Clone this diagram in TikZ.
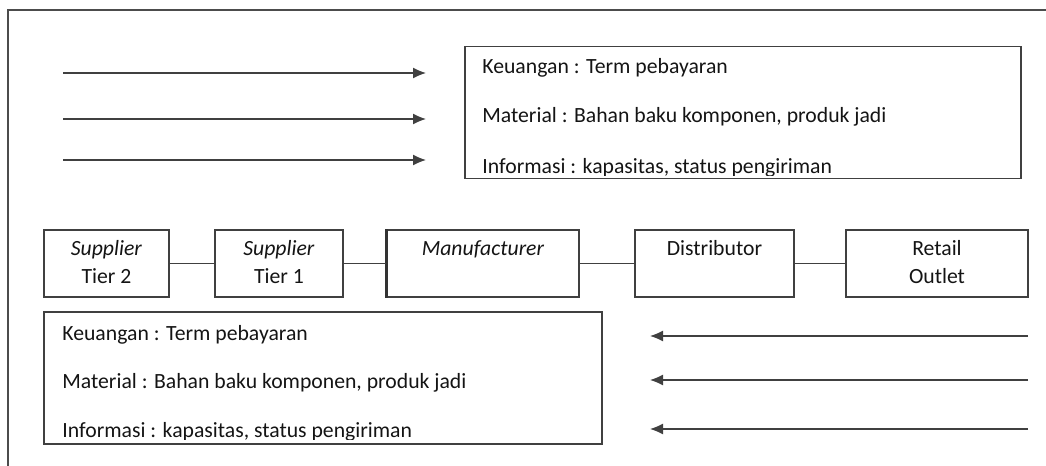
\documentclass[tikz,border=0pt]{standalone}
\usepackage{fontspec}
\setmainfont{Carlito}
\usetikzlibrary{arrows.meta}

\begin{document}
\begin{tikzpicture}[x=0.5pt, y=-0.5pt,
    chainbox/.style={draw=black!75, line width=0.7pt, minimum width=#1, minimum height=33.5pt,
        inner sep=0pt, align=center, text=black!92, font=\fontsize{10.85}{14}\selectfont},
    infobox/.style={draw=black!75, line width=0.7pt, minimum width=#1, minimum height=66pt, inner sep=0pt},
    infotext/.style={anchor=base west, inner sep=0pt, text=black!92, font=\fontsize{10.85}{13}\selectfont},
    flow/.style={black!75, line width=0.65pt, -{Latex[length=6.5pt,width=5.5pt]}},
    link/.style={black!75, line width=0.7pt}]

        \useasboundingbox (0,0) rectangle (1046,466);

        % Page frame, only the top and left edges show
        \draw[black!70, line width=0.7pt] (8,466) -- (8,10) -- (1046,10);

        % Upper information box (flows going downstream)
        \node[infobox=278pt] (topbox) at (743,112.5) {};
        \begin{scope}
            \clip (465,46) rectangle (1021,175);
            \node[infotext] (topk) at (482,74) {Keuangan : Term pebayaran};
            \node[infotext] (topm) at (482,122) {Material : Bahan baku komponen, produk jadi};
            \node[infotext] (topi) at (482,173) {Informasi : kapasitas, status pengiriman};
        \end{scope}

        % Arrows to the right
        \foreach \y [count=\i] in {73,119,160} {
            \coordinate (rs\i) at (63,\y);
            \coordinate (re\i) at (426,\y);
            \draw[flow] (rs\i) -- (re\i);
        }

        % Supply chain members
        \node[chainbox=62.5pt] (tier2) at (106.5,263.5) {\strut\textit{Supplier}\\\strut Tier 2};
        \node[chainbox=64pt] (tier1) at (279,263.5) {\strut\textit{Supplier}\\\strut Tier 1};
        \node[chainbox=96pt] (manuf) at (483,263.5) {\strut\textit{Manufacturer}\\\strut};
        \node[chainbox=79.5pt] (distr) at (714.5,263.5) {\strut Distributor\\\strut};
        \node[chainbox=91pt] (retail) at (937,263.5) {\strut Retail\\\strut Outlet};
        \draw[black!80, line width=1.4pt] (manuf.north west) -- (manuf.south west);

        % Links between members
        \draw[link] (tier2) -- (tier1);
        \draw[link] (tier1) -- (manuf);
        \draw[link] (manuf) -- (distr);
        \draw[link] (distr) -- (retail);

        % Lower information box (flows going upstream)
        \node[infobox=279pt] (botbox) at (323,378) {};
        \begin{scope}
            \clip (44,313) rectangle (602,439.5);
            \node[infotext] (botk) at (62,340) {Keuangan : Term pebayaran};
            \node[infotext] (botm) at (62,388) {Material : Bahan baku komponen, produk jadi};
            \node[infotext] (boti) at (62,437) {Informasi : kapasitas, status pengiriman};
        \end{scope}

        % Arrows to the left
        \foreach \y [count=\i] in {336,380,429} {
            \coordinate (ls\i) at (1028,\y);
            \coordinate (le\i) at (650,\y);
            \draw[flow] (ls\i) -- (le\i);
        }

\end{tikzpicture}
\end{document}
